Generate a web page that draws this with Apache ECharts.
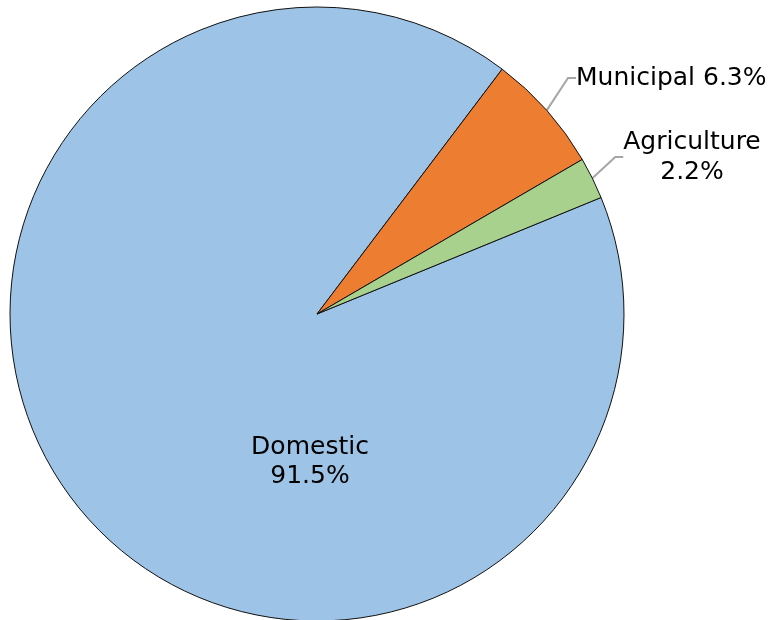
<!DOCTYPE html>
<html><head><meta charset="utf-8">
<script src="https://cdn.jsdelivr.net/npm/echarts@6/dist/echarts.min.js"></script>
<style>html,body{margin:0;padding:0;background:#fff}#c{width:769px;height:620px}</style>
</head><body><div id="c"></div>
<script>
const categories = ['Domestic', 'Municipal', 'Agriculture'];
const values = [91.5, 6.3, 2.2];
const colors = ['#9dc3e6', '#ed7d31', '#a9d18e'];

const FONT = 'DejaVu Sans';
const FS = 25;
const data = categories.map((name, i) => {
  const d = { name: name, value: values[i], itemStyle: { color: colors[i] } };
  if (name === 'Domestic') {
    d.label = { position: 'inside', formatter: '{b}\n{d}%' };
    d.labelLine = { show: false };
  } else if (name === 'Municipal') {
    d.label = { position: 'outside', formatter: '{b} {d}%' };
  } else {
    d.label = { position: 'outside', formatter: '{a|{b}}\n{c|{d}%}',
      rich: { a: { fontFamily: FONT, fontSize: FS, color: '#000', lineHeight: 30, align: 'center' },
              c: { fontFamily: FONT, fontSize: FS, color: '#000', lineHeight: 30, align: 'center' } } };
  }
  return d;
});

const chart = echarts.init(document.getElementById('c'), null, { renderer: 'canvas' });
chart.setOption({
  animation: false,
  backgroundColor: '#fff',
  series: [{
    type: 'pie',
    center: [317, 314],
    radius: 307,
    startAngle: 22.3,
    clockwise: true,
    avoidLabelOverlap: false,
    percentPrecision: 1,
    itemStyle: { borderColor: '#111', borderWidth: 1 },
    label: { fontFamily: FONT, fontSize: FS, color: '#000', lineHeight: 29 },
    labelLine: { show: true, length: 25, length2: 8, lineStyle: { color: '#a6a6a6', width: 2 } },
    emphasis: { disabled: true },
    data: data,
    labelLayout: function (p) {
      const name = categories[p.dataIndex];
      if (name === 'Domestic') return { x: 310, y: 462, align: 'center', verticalAlign: 'middle' };
      if (name === 'Municipal') return { x: 576, y: 78, align: 'left', verticalAlign: 'middle' };
      if (name === 'Agriculture') return { x: 692, y: 157, align: 'center', verticalAlign: 'middle' };
    }
  }]
});
</script></body></html>
